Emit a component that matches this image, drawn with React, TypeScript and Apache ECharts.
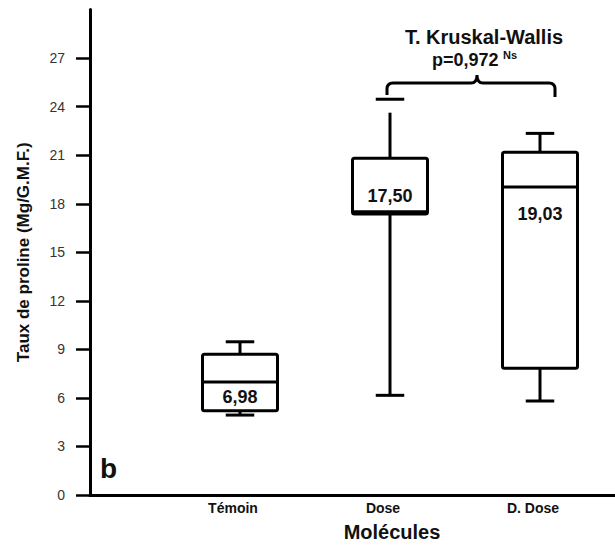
import React, { useEffect, useRef } from 'react';
import * as echarts from 'echarts';

const categories = ['Témoin', 'Dose', 'D. Dose'];
const whiskerMin = [4.94, 6.16, 5.81];
const q1 = [5.21, 17.37, 7.83];
const median = [6.98, 17.5, 19.03];
const q3 = [8.7, 20.81, 21.18];
const whiskerMax = [9.47, 24.46, 22.35];
const whiskerLineTop = [9.47, 23.63, 22.35];
const medianLabels = ['6,98', '17,50', '19,03'];
const yTickValues = [0, 3, 6, 9, 12, 15, 18, 21, 24, 27];
// bracket annotation: x in category units (left, peak, right), y in data units
const bracketX = [0.98, 1.58, 2.1];
const bracketY = [24.72, 25.46, 25.96, 24.6]; // left end, bar, peak, right end

const FONT = '"Liberation Sans", Arial, sans-serif';
const labelOffsets = [15, -16, 27];

export default function App() {
  const ref = useRef<HTMLDivElement>(null);
  useEffect(() => {
    document.body.style.margin = '0';
    if (!ref.current) return;
    const chart = echarts.init(ref.current, null, { renderer: 'svg' });

    const boxData = categories.map((_, i) => [
      i, whiskerMin[i], q1[i], median[i], q3[i], whiskerMax[i], whiskerLineTop[i],
    ]);

    const renderBox = (params: any, api: any) => {
      const i = api.value(0);
      const cx = api.coord([i, 0])[0];
      const w = api.size([0.5, 0])[0];
      const cw = api.size([0.19, 0])[0];
      const y = (k: number) => api.coord([i, api.value(k)])[1];
      const yMin = y(1), yQ1 = y(2), yMed = y(3), yQ3 = y(4), yMax = y(5), yTop = y(6);
      const line = (x1: number, y1: number, x2: number, y2: number, lw = 3) => ({
        type: 'line',
        shape: { x1, y1, x2, y2 },
        style: { stroke: '#000', lineWidth: lw },
      });
      return {
        type: 'group',
        children: [
          line(cx, yQ3, cx, yTop),
          line(cx - cw / 2, yMax, cx + cw / 2, yMax),
          line(cx, yQ1, cx, yMin),
          line(cx - cw / 2, yMin, cx + cw / 2, yMin),
          {
            type: 'rect',
            shape: { x: cx - w / 2, y: yQ3, width: w, height: yQ1 - yQ3, r: 2 },
            style: { fill: '#fff', stroke: '#000', lineWidth: 3 },
          },
          line(cx - w / 2, yMed, cx + w / 2, yMed),
          {
            type: 'text',
            x: cx,
            y: yMed + labelOffsets[i],
            style: {
              text: medianLabels[i],
              font: `bold 18px ${FONT}`,
              fill: '#111',
              align: 'center',
              verticalAlign: 'middle',
            },
          },
        ],
      };
    };

    const renderBracket = (params: any, api: any) => {
      const xl = api.coord([api.value(0), 0])[0];
      const xp = api.coord([api.value(1), 0])[0];
      const xr = api.coord([api.value(2), 0])[0];
      const yl = api.coord([0, api.value(3)])[1];
      const yb = api.coord([0, api.value(4)])[1];
      const yp = api.coord([0, api.value(5)])[1];
      const yr = api.coord([0, api.value(6)])[1];
      const r = 6;
      const d =
        `M ${xl} ${yl} L ${xl} ${yb + r} Q ${xl} ${yb} ${xl + r} ${yb} ` +
        `L ${xp - r} ${yb} Q ${xp} ${yb} ${xp} ${yp} Q ${xp} ${yb} ${xp + r} ${yb} ` +
        `L ${xr - r} ${yb} Q ${xr} ${yb} ${xr} ${yb + r} L ${xr} ${yr}`;
      return {
        type: 'path',
        shape: { pathData: d },
        style: { stroke: '#000', fill: 'none', lineWidth: 3 },
      };
    };

    const option: any = {
      animation: false,
      grid: { left: 90, right: 0, top: 9.6, bottom: 51 },
      xAxis: {
        type: 'value',
        min: -1,
        max: 2.5,
        splitLine: { show: false },
        axisLine: { show: true, onZero: false, lineStyle: { color: '#000', width: 3 } },
        axisTick: { show: false },
        axisLabel: {
          customValues: [0, 1, 2],
          formatter: (v: number) =>
            Number.isInteger(v) && v >= 0 && v < categories.length ? categories[v] : '',
          fontFamily: FONT,
          fontWeight: 'bold',
          fontSize: 14,
          color: '#111',
          margin: 6,
          padding: [0, 14, 0, 0],
        },
      },
      yAxis: {
        type: 'value',
        min: 0,
        max: 30,
        interval: 3,
        name: 'Taux de proline (Mg/G.M.F.)',
        nameLocation: 'middle',
        nameGap: 58,
        nameTextStyle: { fontFamily: FONT, fontWeight: 'bold', fontSize: 17, color: '#111' },
        splitLine: { show: false },
        axisLine: { show: true, onZero: false, lineStyle: { color: '#000', width: 3 } },
        axisTick: {
          show: true,
          length: 14,
          customValues: yTickValues,
          lineStyle: { color: '#000', width: 2.5 },
        },
        axisLabel: {
          customValues: yTickValues,
          formatter: (v: number) => (v >= 30 ? '' : String(v)),
          fontFamily: FONT,
          fontSize: 14,
          color: '#333',
          margin: 25,
        },
      },
      series: [
        {
          type: 'custom',
          renderItem: renderBox,
          data: boxData,
          encode: { x: 0, y: [1, 2, 3, 4, 5, 6] },
          clip: false,
        },
        {
          type: 'custom',
          renderItem: renderBracket,
          data: [[bracketX[0], bracketX[1], bracketX[2], bracketY[0], bracketY[1], bracketY[2], bracketY[3]]],
          encode: { x: [0, 1, 2], y: [3, 4, 5, 6] },
          clip: false,
        },
      ],
      graphic: [
        {
          type: 'text',
          x: 100,
          y: 468,
          style: { text: 'b', font: `bold 28px ${FONT}`, fill: '#111', verticalAlign: 'middle' },
        },
        {
          type: 'text',
          x: 392,
          y: 532,
          style: { text: 'Molécules', font: `bold 20px ${FONT}`, fill: '#111', align: 'center', verticalAlign: 'middle' },
        },
        {
          type: 'text',
          x: 484,
          y: 37,
          style: { text: 'T. Kruskal-Wallis', font: `bold 20px ${FONT}`, fill: '#111', align: 'center', verticalAlign: 'middle' },
        },
        {
          type: 'text',
          x: 432,
          y: 60,
          style: { text: 'p=0,972', font: `bold 18px ${FONT}`, fill: '#111', verticalAlign: 'middle' },
        },
        {
          type: 'text',
          x: 503,
          y: 55,
          style: { text: 'Ns', font: `bold 11px ${FONT}`, fill: '#111', verticalAlign: 'middle' },
        },
      ],
    };
    chart.setOption(option);
    return () => chart.dispose();
  }, []);
  return <div ref={ref} style={{ width: 615, height: 546 }} />;
}
